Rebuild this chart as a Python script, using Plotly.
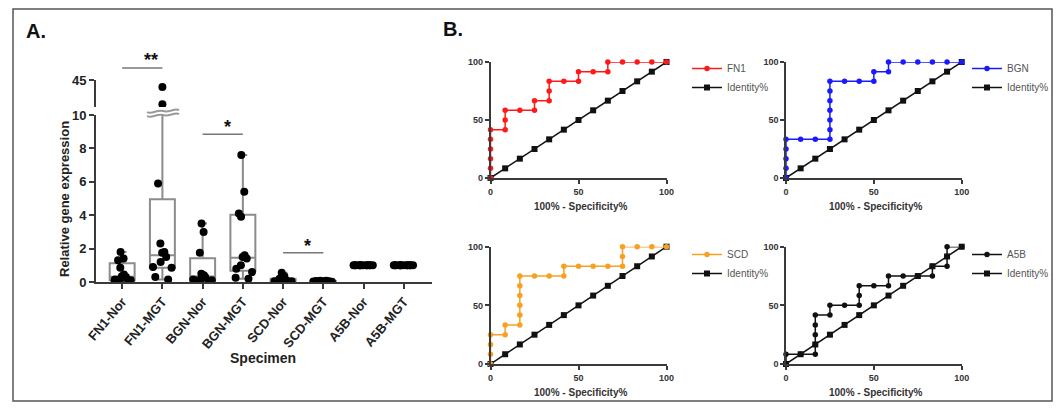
import plotly.graph_objects as go

W, H = 1064, 410
OFF = 8  # page body margin in the browser

def px(x):
    return (x - OFF) / W

def py(y):
    return 1 - (y - OFF) / H

# ---------------- Panel A data ----------------
categories = ["FN1-Nor", "FN1-MGT", "BGN-Nor", "BGN-MGT",
              "SCD-Nor", "SCD-MGT", "A5B-Nor", "A5B-MGT"]
lower_ticks = [0, 2, 4, 6, 8, 10]
upper_ticks = [45]

box_min = [0.05, 0.15, 0.05, 0.20, 0.01, 0.01, 1.0, 1.0]
box_q1 = [0.10, 0.85, 0.10, 0.68, 0.04, 0.02, 1.0, 1.0]
box_median = [0.32, 1.60, 0.33, 1.45, 0.08, 0.04, 1.0, 1.0]
box_q3 = [1.12, 4.95, 1.42, 4.02, 0.20, 0.06, 1.0, 1.0]
box_max = [1.80, 36.0, 3.50, 7.60, 0.55, 0.08, 1.0, 1.0]

fn1_nor = [1.8, 1.4, 1.3, 0.85, 0.45, 0.35, 0.3, 0.2, 0.15, 0.1, 0.1, 0.05]
fn1_mgt = [5.9, 2.3, 1.8, 1.75, 1.5, 1.2, 0.9, 0.85, 0.3, 0.15]
fn1_mgt_high = [36.0, 13.5]
bgn_nor = [3.5, 3.0, 1.75, 0.5, 0.4, 0.35, 0.3, 0.2, 0.15, 0.1, 0.1, 0.05]
bgn_mgt = [7.6, 5.4, 4.1, 3.9, 1.6, 1.5, 1.4, 1.0, 0.8, 0.6, 0.25, 0.2]
scd_nor = [0.55, 0.35, 0.2, 0.15, 0.12, 0.1, 0.08, 0.06, 0.05, 0.04, 0.03, 0.02]
scd_mgt = [0.08, 0.07, 0.06, 0.05, 0.05, 0.04, 0.04, 0.03, 0.03, 0.02, 0.02, 0.01]
a5b_nor = [1.0, 1.0, 1.0, 1.0, 1.0, 1.0, 1.0, 1.0, 1.0, 1.0, 1.0, 1.0]
a5b_mgt = [1.0, 1.0, 1.0, 1.0, 1.0, 1.0, 1.0, 1.0, 1.0, 1.0, 1.0, 1.0]

group_points = [fn1_nor, fn1_mgt, bgn_nor, bgn_mgt, scd_nor, scd_mgt, a5b_nor, a5b_mgt]

sig_pairs = [("FN1-Nor", "FN1-MGT", "**"), ("BGN-Nor", "BGN-MGT", "*"), ("SCD-Nor", "SCD-MGT", "*")]
sig_heights = [None, 8.85, 1.75]

# ---------------- Panel B data (ROC) ----------------
roc_ticks = [0, 50, 100]
identity_x = [0, 8.33, 16.67, 25, 33.33, 41.67, 50, 58.33, 66.67, 75, 83.33, 91.67, 100]
identity_y = [0, 8.33, 16.67, 25, 33.33, 41.67, 50, 58.33, 66.67, 75, 83.33, 91.67, 100]

fn1_fpr = [0, 0, 0, 0, 0, 0, 8.33, 8.33, 8.33, 16.67, 25, 25, 33.33, 33.33, 33.33,
           41.67, 50, 50, 58.33, 66.67, 66.67, 75, 83.33, 91.67, 100]
fn1_tpr = [0, 8.33, 16.67, 25, 33.33, 41.67, 41.67, 50, 58.33, 58.33, 58.33, 66.67, 66.67, 75, 83.33,
           83.33, 83.33, 91.67, 91.67, 91.67, 100, 100, 100, 100, 100]

bgn_fpr = [0, 0, 0, 0, 0, 8.33, 16.67, 25, 25, 25, 25, 25, 25, 25, 33.33,
           41.67, 50, 50, 58.33, 58.33, 66.67, 75, 83.33, 91.67, 100]
bgn_tpr = [0, 8.33, 16.67, 25, 33.33, 33.33, 33.33, 33.33, 41.67, 50, 58.33, 66.67, 75, 83.33, 83.33,
           83.33, 83.33, 91.67, 91.67, 100, 100, 100, 100, 100, 100]

scd_fpr = [0, 0, 0, 0, 8.33, 8.33, 16.67, 16.67, 16.67, 16.67, 16.67, 16.67, 25, 33.33, 41.67,
           41.67, 50, 58.33, 66.67, 75, 75, 75, 83.33, 91.67, 100]
scd_tpr = [0, 8.33, 16.67, 25, 25, 33.33, 33.33, 41.67, 50, 58.33, 66.67, 75, 75, 75, 75,
           83.33, 83.33, 83.33, 83.33, 83.33, 91.67, 100, 100, 100, 100]

a5b_fpr = [0, 0, 8.33, 16.67, 16.67, 16.67, 16.67, 16.67, 25, 25, 33.33, 41.67, 41.67, 41.67, 50,
           58.33, 58.33, 66.67, 75, 83.33, 83.33, 91.67, 91.67, 91.67, 100]
a5b_tpr = [0, 8.33, 8.33, 8.33, 16.67, 25, 33.33, 41.67, 41.67, 50, 50, 50, 58.33, 66.67, 66.67,
           66.67, 75, 75, 75, 75, 83.33, 83.33, 91.67, 100, 100]

roc_names = ["FN1", "BGN", "SCD", "A5B"]
roc_colors = ["#ff1a1a", "#1a1aff", "#f7a123", "#111111"]
roc_fpr = [fn1_fpr, bgn_fpr, scd_fpr, a5b_fpr]
roc_tpr = [fn1_tpr, bgn_tpr, scd_tpr, a5b_tpr]

FONT = "Liberation Sans, Arial, sans-serif"
AXC = "#3a3a3a"
BOXC = "#8c8c8c"

fig = go.Figure()

# ---- Panel A: boxes ----
fig.add_trace(go.Box(
    x=categories, q1=box_q1, median=box_median, q3=box_q3,
    lowerfence=box_min, upperfence=box_max,
    xaxis="x", yaxis="y", boxpoints=False, width=0.62, whiskerwidth=0.35,
    fillcolor="white", line=dict(color=BOXC, width=2),
    showlegend=False, hoverinfo="skip",
))

# ---- Panel A: points ----
for cat, vals in zip(categories, group_points):
    fig.add_trace(go.Box(
        x=[cat] * len(vals), y=vals, xaxis="x", yaxis="y",
        boxpoints="all", jitter=0.95, pointpos=0, width=0.62,
        fillcolor="rgba(0,0,0,0)", line=dict(color="rgba(0,0,0,0)", width=0),
        marker=dict(color="black", size=8, line=dict(width=0)),
        showlegend=False, hoverinfo="y",
    ))
fig.add_trace(go.Box(
    x=["FN1-MGT"] * len(fn1_mgt_high), y=fn1_mgt_high, xaxis="x", yaxis="y2",
    boxpoints="all", jitter=0, pointpos=0, width=0.62,
    fillcolor="rgba(0,0,0,0)", line=dict(color="rgba(0,0,0,0)", width=0),
    marker=dict(color="black", size=8, line=dict(width=0)),
    showlegend=False, hoverinfo="y",
))

# ---- Panel B: ROC curves ----
roc_axes = [("x2", "y3"), ("x3", "y4"), ("x4", "y5"), ("x5", "y6")]
legend_ids = ["legend", "legend2", "legend3", "legend4"]
for name, col, fx, ty, (xa, ya), lg in zip(roc_names, roc_colors, roc_fpr, roc_tpr, roc_axes, legend_ids):
    fig.add_trace(go.Scatter(
        x=identity_x, y=identity_y, xaxis=xa, yaxis=ya, mode="lines+markers",
        name="Identity%", line=dict(color="#111111", width=1.5),
        marker=dict(symbol="square", size=6, color="#111111"),
        cliponaxis=False, legend=lg, legendrank=2,
    ))
    fig.add_trace(go.Scatter(
        x=fx, y=ty, xaxis=xa, yaxis=ya, mode="lines+markers",
        name=name, line=dict(color=col, width=1.5),
        marker=dict(symbol="circle", size=5.5, color=col),
        cliponaxis=False, legend=lg, legendrank=1,
    ))

tickfontA = dict(family=FONT, size=13, color="#222", weight="bold")
tickfontB = dict(family=FONT, size=9, color="#333", weight="bold")

roc_x_dom = [(490.5, 666.5), (786, 961.7), (490.5, 666.5), (786, 961.7)]
roc_y_dom = [(178, 62), (178, 62), (364, 246.7), (364, 246.7)]

layout = dict(
    width=W, height=H, margin=dict(l=0, r=0, t=0, b=0, autoexpand=False),
    paper_bgcolor="white", plot_bgcolor="white",
    boxmode="overlay",
    font=dict(family=FONT),
    xaxis=dict(domain=[px(96), px(432)], anchor="y", type="category",
               categoryorder="array", categoryarray=categories,
               range=[-0.65, 7.7], showline=True, linecolor=AXC, linewidth=2,
               ticks="outside", ticklen=5, tickwidth=2, tickcolor=AXC,
               tickangle=-50, tickfont=tickfontA, showgrid=False, zeroline=False,
               automargin=False),
    yaxis=dict(domain=[py(282), py(115)], anchor="x", range=[0, 10],
               tickvals=lower_ticks, showline=True, linecolor=AXC, linewidth=2,
               ticks="outside", ticklen=5, tickwidth=2, tickcolor=AXC,
               tickfont=tickfontA, showgrid=False, zeroline=False, automargin=False),
    yaxis2=dict(domain=[py(107), py(80)], anchor="x", range=[10, 45],
                tickvals=upper_ticks, showline=True, linecolor=AXC, linewidth=2,
                ticks="outside", ticklen=5, tickwidth=2, tickcolor=AXC,
                tickfont=tickfontA, showgrid=False, zeroline=False, automargin=False),
)

for i, ((x0, x1), (yb, yt)) in enumerate(zip(roc_x_dom, roc_y_dom)):
    xn = "xaxis%d" % (i + 2)
    yn = "yaxis%d" % (i + 3)
    layout[xn] = dict(domain=[px(x0), px(x1)], anchor="y%d" % (i + 3), range=[0, 100],
                      tickvals=roc_ticks, showline=True, linecolor=AXC, linewidth=1.5,
                      ticks="outside", ticklen=4, tickwidth=1.5, tickcolor=AXC,
                      tickfont=tickfontB, showgrid=False, zeroline=False, automargin=False)
    layout[yn] = dict(domain=[py(yb), py(yt)], anchor="x%d" % (i + 2), range=[0, 100],
                      tickvals=roc_ticks, showline=True, linecolor=AXC, linewidth=1.5,
                      ticks="outside", ticklen=4, tickwidth=1.5, tickcolor=AXC,
                      tickfont=tickfontB, showgrid=False, zeroline=False, automargin=False)

legend_pos = [(687, 54), (967, 54), (687, 240), (967, 240)]
for lg, (lx, ly) in zip(legend_ids, legend_pos):
    layout[lg] = dict(x=px(lx), y=py(ly), xanchor="left", yanchor="top",
                      bgcolor="rgba(0,0,0,0)", borderwidth=0, tracegroupgap=0,
                      itemwidth=30, font=dict(family=FONT, size=10, color="#555"))

fig.update_layout(**layout)

annotations = []
shapes = []

annotations.append(dict(text="A.", x=px(24), y=py(31), xref="paper", yref="paper",
                        xanchor="left", yanchor="middle", showarrow=False,
                        font=dict(family=FONT, size=20, color="#111", weight="bold")))
annotations.append(dict(text="B.", x=px(441), y=py(29), xref="paper", yref="paper",
                        xanchor="left", yanchor="middle", showarrow=False,
                        font=dict(family=FONT, size=20, color="#111", weight="bold")))
annotations.append(dict(text="Relative gene expression", x=px(64), y=py(199), xref="paper", yref="paper",
                        textangle=-90, showarrow=False, xanchor="center", yanchor="middle",
                        font=dict(family=FONT, size=13, color="#222", weight="bold")))
annotations.append(dict(text="Specimen", x=px(263), y=py(358), xref="paper", yref="paper",
                        showarrow=False, xanchor="center", yanchor="middle",
                        font=dict(family=FONT, size=14, color="#222", weight="bold")))
for (x0, x1), (yb, yt) in zip(roc_x_dom, roc_y_dom):
    annotations.append(dict(text="100% - Specificity%", x=px((x0 + x1) / 2 + 2), y=py(yb + 28),
                            xref="paper", yref="paper", showarrow=False,
                            xanchor="center", yanchor="middle",
                            font=dict(family=FONT, size=10, color="#333", weight="bold")))

star_x = {"FN1-Nor": px(142), "BGN-Nor": px(222), "SCD-Nor": px(302)}
for (c0, c1, lab), hgt in zip(sig_pairs, sig_heights):
    if hgt is None:
        shapes.append(dict(type="line", xref="x", yref="paper", x0=c0, x1=c1,
                           y0=py(68), y1=py(68), line=dict(color="#777", width=1.5)))
        annotations.append(dict(text=lab, xref="paper", yref="paper", x=star_x[c0], y=py(72),
                                yanchor="bottom", showarrow=False,
                                font=dict(family=FONT, size=18, color="#111", weight="bold")))
    else:
        shapes.append(dict(type="line", xref="x", yref="y", x0=c0, x1=c1,
                           y0=hgt, y1=hgt, line=dict(color="#777", width=1.5)))
        annotations.append(dict(text=lab, xref="paper", yref="y", x=star_x[c0], y=hgt,
                                yanchor="bottom", yshift=-5, showarrow=False,
                                font=dict(family=FONT, size=18, color="#111", weight="bold")))

def wave(y0):
    xa, xb = 147, 179
    return "M %f,%f C %f,%f %f,%f %f,%f S %f,%f %f,%f" % (
        px(xa), py(y0 + 1), px(xa + 5), py(y0 + 4), px(xa + 10), py(y0 - 2),
        px(xa + 16), py(y0), px(xb - 5), py(y0 - 3), px(xb), py(y0 - 1))

shapes.append(dict(type="path", xref="paper", yref="paper", path=wave(115),
                   line=dict(color="#999", width=2)))
shapes.append(dict(type="path", xref="paper", yref="paper", path=wave(111),
                   line=dict(color="#999", width=2)))
shapes.append(dict(type="rect", xref="paper", yref="paper", x0=px(13), x1=px(1052),
                   y0=py(401), y1=py(9), line=dict(color="#555", width=1.5)))

fig.update_layout(annotations=annotations, shapes=shapes)

fig.write_html("out.html")
